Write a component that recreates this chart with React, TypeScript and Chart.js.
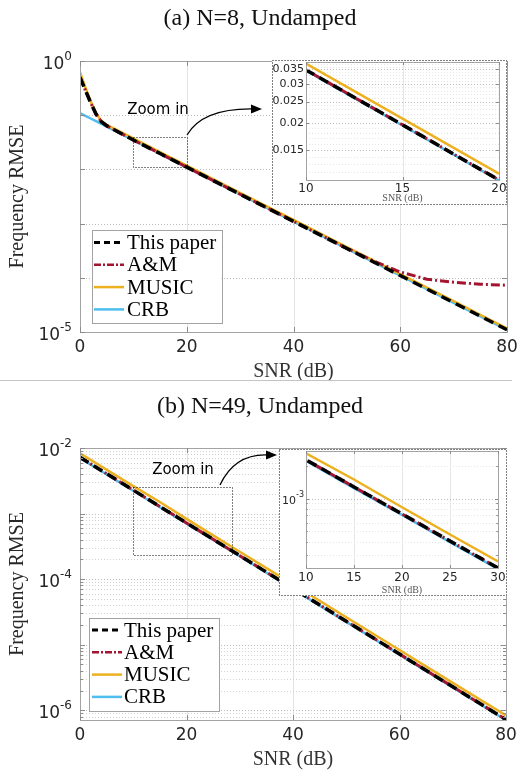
import React, { useEffect, useRef } from 'react';
import { Chart, registerables } from 'chart.js';

Chart.register(...registerables);

// ---------------- data ----------------
const SERIES_NAMES = ['This paper', 'A&M', 'MUSIC', 'CRB'];

// Panel (a): N=8
const SNR_A = [0, 1, 2, 3, 4, 5, 10, 15, 20, 30, 40, 50, 55, 60, 65, 70, 75, 80];
const PAPER_A = [0.5, 0.29, 0.17, 0.105, 0.076, 0.064, 0.0348, 0.0196, 0.011, 0.00348, 0.0011, 0.000348, 0.000196, 0.00011, 6.2e-5, 3.48e-5, 1.96e-5, 1.1e-5];
const AM_A = [0.5, 0.29, 0.17, 0.105, 0.076, 0.064, 0.0348, 0.0196, 0.011, 0.00348, 0.0011, 0.00035, 0.000205, 0.000128, 9.4e-5, 8.3e-5, 7.6e-5, 7.3e-5];
const MUSIC_A = [0.62, 0.33, 0.18, 0.11, 0.078, 0.066, 0.0372, 0.0209, 0.01175, 0.0037, 0.00117, 0.00037, 0.000208, 0.000117, 6.6e-5, 3.7e-5, 2.08e-5, 1.17e-5];
const CRB_A = [0.109, 0.0975, 0.0869, 0.0775, 0.069, 0.0615, 0.0346, 0.01945, 0.01094, 0.00346, 0.001094, 0.000346, 0.0001945, 0.0001094, 6.15e-5, 3.46e-5, 1.945e-5, 1.094e-5];

// Panel (b): N=49
const SNR_B = [0, 10, 15, 20, 25, 30, 40, 50, 60, 70, 80];
const PAPER_B = [7.2e-3, 2.28e-3, 1.28e-3, 7.2e-4, 4.05e-4, 2.28e-4, 7.2e-5, 2.28e-5, 7.2e-6, 2.28e-6, 7.2e-7];
const AM_B = [7.2e-3, 2.28e-3, 1.28e-3, 7.2e-4, 4.05e-4, 2.28e-4, 7.2e-5, 2.28e-5, 7.2e-6, 2.28e-6, 7.2e-7];
const MUSIC_B = [8.3e-3, 2.62e-3, 1.5e-3, 8.3e-4, 4.65e-4, 2.62e-4, 8.3e-5, 2.62e-5, 8.3e-6, 2.62e-6, 8.3e-7];
const CRB_B = [7.05e-3, 2.23e-3, 1.25e-3, 7.05e-4, 3.96e-4, 2.23e-4, 7.05e-5, 2.23e-5, 7.05e-6, 2.23e-6, 7.05e-7];

// ticks
const X_TICKS_MAIN = [0, 20, 40, 60, 80];
const Y_EXP_A = [0, -5];
const Y_GRID_EXP_A = [-5, -4, -3, -2, -1, 0];
const Y_EXP_B = [-2, -4, -6];
const Y_GRID_EXP_B = [-7, -6, -5, -4, -3, -2];
const X_TICKS_INSET_A = [10, 15, 20];
const Y_TICKS_INSET_A = [0.015, 0.02, 0.025, 0.03, 0.035];
const X_TICKS_INSET_B = [10, 15, 20, 25, 30];
const Y_EXP_INSET_B = [-3];
const Y_GRID_EXP_INSET_B = [-4, -3];

// ranges
const X_RANGE_MAIN = [0, 80];
const Y_RANGE_A = [1e-5, 1];
const Y_RANGE_B = [7.1e-7, 1e-2];
const X_RANGE_INSET_A = [10, 20];
const Y_RANGE_INSET_A = [0.011, 0.0378];
const X_RANGE_INSET_B = [10, 30];
const Y_RANGE_INSET_B = [2.28e-4, 2.75e-3];
const ZOOM_BOX_A = { x: [10, 20], y: [0.011, 0.04] };
const ZOOM_BOX_B = { x: [10, 28.5], y: [2.3e-4, 2.5e-3] };

// styles
const STYLES = [
  { color: '#000000', width: 3.5, dash: [10, 6] },
  { color: '#A2142F', width: 3, dash: [9, 3, 2, 3] },
  { color: '#EDB120', width: 2.5, dash: [] as number[] },
  { color: '#4DBEEE', width: 2.5, dash: [] as number[] },
];

const SANS = '"DejaVu Sans", sans-serif';
const SERIF = '"Liberation Serif", "Times New Roman", serif';
const TXT = '#262626';

function minorGrid(exps: number[], lo: number, hi: number) {
  const out: number[] = [];
  for (const e of exps) {
    for (let k = 2; k <= 9; k++) {
      const v = k * Math.pow(10, e);
      if (v > lo && v < hi) out.push(v);
    }
  }
  return out;
}

type Cfg = {
  xGrid: number[];
  xTickLabels: number[];
  xTickFont: string;
  xTickOffset: number;
  yGridMajor: number[];
  yGridMinor: number[];
  minorTicks: boolean;
  yLabels: { v: number; base: string; exp?: string }[];
  yFont: string;
  yExpFont: string;
  yLabelGap: number;
  yExpRaise: number;
  xTitle: string;
  xTitleFont: string;
  xTitleOffset: number;
  xTitleColor: string;
  yTitle?: string;
  yTitleX?: number;
  yTitleFont?: string;
  tickLen: number;
  legend?: { x: number; y: number; w: number; h: number; rowTop: number; rowH: number; l0: number; l1: number; tx: number };
  zoom?: { box: { x: number[]; y: number[] }; tx: number; ty: number; arrow: number[] };
  frame?: boolean;
  gridColor: string;
  minorColor: string;
};

function makeDecor(cfg: Cfg) {
  return {
    id: 'decor',
    beforeDraw(chart: any) {
      const { ctx, width, height } = chart;
      ctx.save();
      ctx.fillStyle = '#ffffff';
      ctx.fillRect(0, 0, width, height);
      ctx.restore();
    },
    beforeDatasetsDraw(chart: any) {
      const { ctx, chartArea: a, scales } = chart;
      const x = scales.x, y = scales.y;
      ctx.save();
      ctx.lineWidth = 1;
      ctx.strokeStyle = cfg.gridColor;
      ctx.setLineDash([]);
      for (const v of cfg.xGrid) {
        const px = Math.round(x.getPixelForValue(v)) + 0.5;
        ctx.beginPath(); ctx.moveTo(px, a.top); ctx.lineTo(px, a.bottom); ctx.stroke();
      }
      ctx.setLineDash([1, 2]);
      ctx.strokeStyle = cfg.minorColor;
      for (const v of cfg.yGridMinor) {
        const py = Math.round(y.getPixelForValue(v)) + 0.5;
        if (py < a.top || py > a.bottom) continue;
        ctx.beginPath(); ctx.moveTo(a.left, py); ctx.lineTo(a.right, py); ctx.stroke();
      }
      ctx.strokeStyle = '#bdbdbd';
      for (const v of cfg.yGridMajor) {
        const py = Math.round(y.getPixelForValue(v)) + 0.5;
        if (py < a.top - 1 || py > a.bottom + 1) continue;
        ctx.beginPath(); ctx.moveTo(a.left, py); ctx.lineTo(a.right, py); ctx.stroke();
      }
      ctx.restore();
    },
    afterDatasetsDraw(chart: any) {
      const { ctx, chartArea: a, scales, width, height } = chart;
      const x = scales.x, y = scales.y;
      ctx.save();
      // axes frame
      ctx.setLineDash([]);
      ctx.strokeStyle = '#a3a3a3';
      ctx.lineWidth = 1;
      ctx.strokeRect(Math.round(a.left) + 0.5, Math.round(a.top) + 0.5, Math.round(a.right - a.left), Math.round(a.bottom - a.top));
      // ticks
      ctx.strokeStyle = '#8c8c8c';
      for (const v of cfg.xGrid.concat(cfg.xTickLabels)) {
        const px = Math.round(x.getPixelForValue(v)) + 0.5;
        ctx.beginPath();
        ctx.moveTo(px, a.bottom); ctx.lineTo(px, a.bottom - cfg.tickLen);
        ctx.moveTo(px, a.top); ctx.lineTo(px, a.top + cfg.tickLen);
        ctx.stroke();
      }
      for (const v of cfg.yGridMajor) {
        const py = Math.round(y.getPixelForValue(v)) + 0.5;
        if (py < a.top - 1 || py > a.bottom + 1) continue;
        ctx.beginPath();
        ctx.moveTo(a.left, py); ctx.lineTo(a.left + cfg.tickLen, py);
        ctx.moveTo(a.right, py); ctx.lineTo(a.right - cfg.tickLen, py);
        ctx.stroke();
      }
      if (cfg.minorTicks) {
        for (const v of cfg.yGridMinor) {
          const py = Math.round(y.getPixelForValue(v)) + 0.5;
          if (py < a.top || py > a.bottom) continue;
          ctx.beginPath();
          ctx.moveTo(a.left, py); ctx.lineTo(a.left + cfg.tickLen * 0.6, py);
          ctx.moveTo(a.right, py); ctx.lineTo(a.right - cfg.tickLen * 0.6, py);
          ctx.stroke();
        }
      }
      // x tick labels
      ctx.fillStyle = TXT;
      ctx.font = cfg.xTickFont;
      ctx.textAlign = 'center';
      ctx.textBaseline = 'middle';
      for (const v of cfg.xTickLabels) {
        ctx.fillText(String(v), x.getPixelForValue(v), a.bottom + cfg.xTickOffset);
      }
      // y tick labels
      for (const l of cfg.yLabels) {
        const py = y.getPixelForValue(l.v);
        ctx.font = cfg.yFont;
        const wb = ctx.measureText(l.base).width;
        let we = 0;
        if (l.exp) { ctx.font = cfg.yExpFont; we = ctx.measureText(l.exp).width; }
        const start = a.left - cfg.yLabelGap - wb - we;
        ctx.textAlign = 'left';
        ctx.font = cfg.yFont;
        ctx.fillText(l.base, start, py + (l.exp ? cfg.yExpRaise * 0.45 : 0));
        if (l.exp) {
          ctx.font = cfg.yExpFont;
          ctx.fillText(l.exp, start + wb, py - cfg.yExpRaise * 0.55);
        }
      }
      // x title
      ctx.font = cfg.xTitleFont;
      ctx.fillStyle = cfg.xTitleColor;
      ctx.textAlign = 'center';
      ctx.fillText(cfg.xTitle, (a.left + a.right) / 2, a.bottom + cfg.xTitleOffset);
      // y title
      if (cfg.yTitle) {
        ctx.save();
        ctx.translate(cfg.yTitleX, (a.top + a.bottom) / 2);
        ctx.rotate(-Math.PI / 2);
        ctx.font = cfg.yTitleFont;
        ctx.fillStyle = TXT;
        ctx.textAlign = 'center';
        ctx.textBaseline = 'middle';
        ctx.fillText(cfg.yTitle, 0, 0);
        ctx.restore();
      }
      // zoom box + annotation
      if (cfg.zoom) {
        const z = cfg.zoom;
        const x0 = Math.round(x.getPixelForValue(z.box.x[0])) + 0.5;
        const x1 = Math.round(x.getPixelForValue(z.box.x[1])) + 0.5;
        const y0 = Math.round(y.getPixelForValue(z.box.y[1])) + 0.5;
        const y1 = Math.round(y.getPixelForValue(z.box.y[0])) + 0.5;
        ctx.strokeStyle = '#000';
        ctx.lineWidth = 1;
        ctx.setLineDash([1, 2]);
        ctx.strokeRect(x0, y0, x1 - x0, y1 - y0);
        ctx.setLineDash([]);
        ctx.fillStyle = '#000';
        ctx.font = `15px ${SANS}`;
        ctx.textAlign = 'center';
        ctx.textBaseline = 'middle';
        ctx.fillText('Zoom in', z.tx, z.ty);
        const [sx, sy, cx, cy, ex, ey] = z.arrow;
        ctx.lineWidth = 1.3;
        ctx.beginPath();
        ctx.moveTo(sx, sy);
        ctx.quadraticCurveTo(cx, cy, ex - 8, ey);
        ctx.stroke();
        ctx.beginPath();
        ctx.moveTo(ex, ey);
        ctx.lineTo(ex - 11, ey - 4.5);
        ctx.lineTo(ex - 11, ey + 4.5);
        ctx.closePath();
        ctx.fill();
      }
      // legend
      if (cfg.legend) {
        const L = cfg.legend;
        ctx.setLineDash([]);
        ctx.fillStyle = '#fff';
        ctx.fillRect(L.x, L.y, L.w, L.h);
        ctx.strokeStyle = '#a3a3a3';
        ctx.lineWidth = 1;
        ctx.strokeRect(Math.round(L.x) + 0.5, Math.round(L.y) + 0.5, Math.round(L.w), Math.round(L.h));
        SERIES_NAMES.forEach((name, i) => {
          const ry = L.y + L.rowTop + i * L.rowH;
          const st = STYLES[i];
          ctx.strokeStyle = st.color;
          ctx.lineWidth = i === 0 ? 3 : 2.5;
          ctx.setLineDash(i === 0 ? [6, 4] : i === 1 ? [7, 2, 2, 2] : []);
          ctx.beginPath(); ctx.moveTo(L.l0, ry); ctx.lineTo(L.l1, ry); ctx.stroke();
          ctx.setLineDash([]);
          ctx.fillStyle = '#000';
          ctx.font = `21px ${SERIF}`;
          ctx.textAlign = 'left';
          ctx.textBaseline = 'middle';
          ctx.fillText(name, L.tx, ry + 1);
        });
      }
      if (cfg.frame) {
        ctx.strokeStyle = '#000';
        ctx.lineWidth = 1;
        ctx.setLineDash([1, 2]);
        ctx.strokeRect(0.5, 0.5, width - 1, height - 1);
      }
      ctx.restore();
    },
  };
}

function buildDatasets(snr: number[], series: number[][]) {
  return series.map((vals, i) => ({
    label: SERIES_NAMES[i],
    data: snr.map((s, j) => ({ x: s, y: vals[j] })),
    borderColor: STYLES[i].color,
    backgroundColor: STYLES[i].color,
    borderWidth: STYLES[i].width,
    borderDash: STYLES[i].dash,
    pointRadius: 0,
    tension: 0,
    fill: false,
  }));
}

function makeConfig(opts: {
  snr: number[]; series: number[][]; xr: number[]; yr: number[]; padding: any; cfg: Cfg;
}) {
  return {
    type: 'line' as const,
    data: { datasets: buildDatasets(opts.snr, opts.series) },
    options: {
      responsive: false,
      animation: false as const,
      events: [] as any[],
      layout: { padding: opts.padding, autoPadding: false },
      plugins: { legend: { display: false }, tooltip: { enabled: false }, title: { display: false } },
      scales: {
        x: { type: 'linear' as const, display: false, min: opts.xr[0], max: opts.xr[1], bounds: 'data' as const },
        y: { type: 'logarithmic' as const, display: false, min: opts.yr[0], max: opts.yr[1], bounds: 'data' as const },
      },
    },
    plugins: [makeDecor(opts.cfg)],
  };
}

function ChartCanvas(props: { w: number; h: number; left: number; top: number; config: () => any }) {
  const ref = useRef<HTMLCanvasElement | null>(null);
  useEffect(() => {
    if (!ref.current) return;
    const chart = new Chart(ref.current, props.config());
    return () => chart.destroy();
  }, []);
  return (
    <canvas
      ref={ref}
      width={props.w}
      height={props.h}
      style={{ position: 'absolute', left: props.left, top: props.top, width: props.w, height: props.h }}
    />
  );
}

const pow = (e: number) => Math.pow(10, e);

const mainCfgBase = {
  xGrid: [20, 40, 60],
  xTickLabels: X_TICKS_MAIN,
  xTickFont: `17px ${SANS}`,
  xTickOffset: 16,
  yFont: `17px ${SANS}`,
  yExpFont: `12px ${SANS}`,
  yLabelGap: 8,
  yExpRaise: 8,
  xTitle: 'SNR (dB)',
  xTitleFont: `20px ${SERIF}`,
  xTitleOffset: 40,
  xTitleColor: '#333',
  yTitle: 'Frequency RMSE',
  yTitleX: 18,
  yTitleFont: `20px ${SERIF}`,
  tickLen: 5,
  gridColor: '#e3e3e3',
  minorColor: '#d2d2d2',
};

function topMain() {
  return makeConfig({
    snr: SNR_A,
    series: [PAPER_A, AM_A, MUSIC_A, CRB_A],
    xr: X_RANGE_MAIN,
    yr: Y_RANGE_A,
    padding: { left: 80, top: 61, right: 10, bottom: 49 },
    cfg: {
      ...mainCfgBase,
      yGridMajor: Y_GRID_EXP_A.map(pow),
      yGridMinor: [],
      minorTicks: false,
      yLabels: Y_EXP_A.map((e) => ({ v: pow(e), base: '10', exp: String(e) })),
      legend: { x: 91.5, y: 230, w: 130, h: 93, rowTop: 12.5, rowH: 22.3, l0: 94, l1: 124, tx: 127 },
      zoom: { box: ZOOM_BOX_A, tx: 158, ty: 110, arrow: [187, 135, 203, 108, 262, 109] },
    },
  });
}

function bottomMain() {
  return makeConfig({
    snr: SNR_B,
    series: [PAPER_B, AM_B, MUSIC_B, CRB_B],
    xr: X_RANGE_MAIN,
    yr: Y_RANGE_B,
    padding: { left: 80, top: 67, right: 11, bottom: 52 },
    cfg: {
      ...mainCfgBase,
      yGridMajor: Y_GRID_EXP_B.map(pow),
      yGridMinor: minorGrid(Y_GRID_EXP_B, Y_RANGE_B[0], Y_RANGE_B[1]),
      minorTicks: true,
      yLabels: Y_EXP_B.map((e) => ({ v: pow(e), base: '10', exp: String(e) })),
      legend: { x: 89, y: 237, w: 130, h: 93, rowTop: 12, rowH: 22.3, l0: 92, l1: 122, tx: 124 },
      zoom: { box: ZOOM_BOX_B, tx: 183, ty: 89, arrow: [220, 104, 235, 72, 277, 74] },
    },
  });
}

const insetBase = {
  xTickFont: `12px ${SANS}`,
  yFont: `11px ${SANS}`,
  yExpFont: `8px ${SANS}`,
  yLabelGap: 2,
  yExpRaise: 6,
  xTitle: 'SNR (dB)',
  xTitleFont: `10px ${SERIF}`,
  xTitleColor: '#555',
  tickLen: 3,
  frame: true,
  gridColor: '#e6e6e6',
  minorColor: '#e6e6e6',
};

function insetA() {
  const minor: number[] = [];
  for (let k = 11; k <= 37; k++) minor.push(k / 1000);
  return makeConfig({
    snr: SNR_A,
    series: [PAPER_A, AM_A, MUSIC_A, CRB_A],
    xr: X_RANGE_INSET_A,
    yr: Y_RANGE_INSET_A,
    padding: { left: 34, top: 2, right: 8, bottom: 25 },
    cfg: {
      ...insetBase,
      xGrid: [15],
      xTickLabels: X_TICKS_INSET_A,
      xTickOffset: 9,
      xTitleOffset: 18.5,
      yGridMajor: Y_TICKS_INSET_A,
      yGridMinor: minor,
      minorTicks: false,
      yLabels: Y_TICKS_INSET_A.map((v) => ({ v, base: String(v) })),
    },
  });
}

function insetB() {
  return makeConfig({
    snr: SNR_B,
    series: [PAPER_B, AM_B, MUSIC_B, CRB_B],
    xr: X_RANGE_INSET_B,
    yr: Y_RANGE_INSET_B,
    padding: { left: 27, top: 2, right: 9, bottom: 28 },
    cfg: {
      ...insetBase,
      xGrid: [15, 20, 25],
      xTickLabels: X_TICKS_INSET_B,
      xTickOffset: 10,
      xTitleOffset: 22,
      yGridMajor: Y_EXP_INSET_B.map(pow),
      yGridMinor: minorGrid(Y_GRID_EXP_INSET_B, Y_RANGE_INSET_B[0], Y_RANGE_INSET_B[1]),
      minorTicks: true,
      yLabels: Y_EXP_INSET_B.map((e) => ({ v: pow(e), base: '10', exp: String(e) })),
    },
  });
}

export default function App() {
  return (
    <div style={{ position: 'absolute', left: 0, top: 0, width: 517, height: 772, background: '#fff', overflow: 'hidden' }}>
      <ChartCanvas w={517} h={381} left={0} top={0} config={topMain} />
      <ChartCanvas w={235} h={145} left={272} top={60} config={insetA} />
      <div style={{ position: 'absolute', left: 0, top: 380, width: 512, height: 1, background: '#c4c4c4' }} />
      <ChartCanvas w={517} h={391} left={0} top={381} config={bottomMain} />
      <ChartCanvas w={228} h={147} left={279} top={449} config={insetB} />
      <div style={{ position: 'absolute', left: 0, top: 3, width: 520, textAlign: 'center', font: `24px ${SERIF}`, color: '#111', lineHeight: '28px' }}>
        (a) N=8, Undamped
      </div>
      <div style={{ position: 'absolute', left: 0, top: 391, width: 520, textAlign: 'center', font: `24px ${SERIF}`, color: '#111', lineHeight: '28px' }}>
        (b) N=49, Undamped
      </div>
    </div>
  );
}
